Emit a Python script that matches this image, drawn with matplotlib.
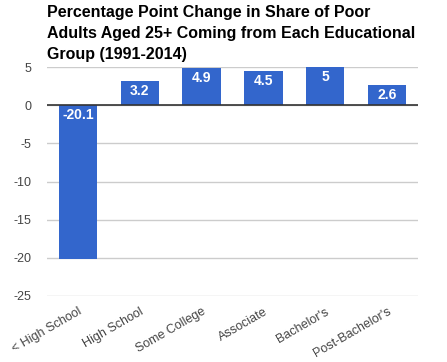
import matplotlib.pyplot as plt
import numpy as np

plt.rcParams['font.family'] = ['Liberation Sans', 'DejaVu Sans']
plt.rcParams['axes.unicode_minus'] = False

categories = ["< High School", "High School", "Some College", "Associate",
              "Bachelor's", "Post-Bachelor's"]
values = [-20.1, 3.2, 4.9, 4.5, 5, 2.6]
labels = ["-20.1", "3.2", "4.9", "4.5", "5", "2.6"]

fig = plt.figure(figsize=(4.47, 3.62), dpi=100)
ax = fig.add_axes([47 / 447, 1 - 296 / 362, (418 - 47) / 447, (296 - 67) / 362])

x = np.arange(len(categories))
ax.bar(x, values, width=0.62, color='#3366cc', zorder=3)

for xi, v, lab in zip(x, values, labels):
    top = v if v >= 0 else 0
    ax.text(xi, top - 0.4, lab, ha='center', va='top', color='white',
            fontsize=10, fontweight='bold', zorder=4)

ax.set_xlim(-0.5, len(categories) - 0.5)
ax.set_ylim(-25, 5)
ax.set_yticks([5, 0, -5, -10, -15, -20, -25])
ax.yaxis.grid(True, color='#cccccc', linewidth=1, zorder=0)
ax.axhline(0, color='#333333', linewidth=1.2, zorder=5)

for s in ax.spines.values():
    s.set_visible(False)
ax.tick_params(axis='both', length=0, colors='#444444', labelsize=9)
ax.tick_params(axis='y', pad=11)
ax.set_xticks(x)
ax.set_xticklabels(categories, rotation=30, ha='right', rotation_mode='anchor')
ax.tick_params(axis='x', pad=7)

fig.text(47 / 447, 1 - 5 / 362,
         "Percentage Point Change in Share of Poor\n"
         "Adults Aged 25+ Coming from Each Educational\n"
         "Group (1991-2014)",
         ha='left', va='top', fontsize=11.5, fontweight='bold',
         color='black', linespacing=1.5)

fig.savefig('out.png', dpi=100)
